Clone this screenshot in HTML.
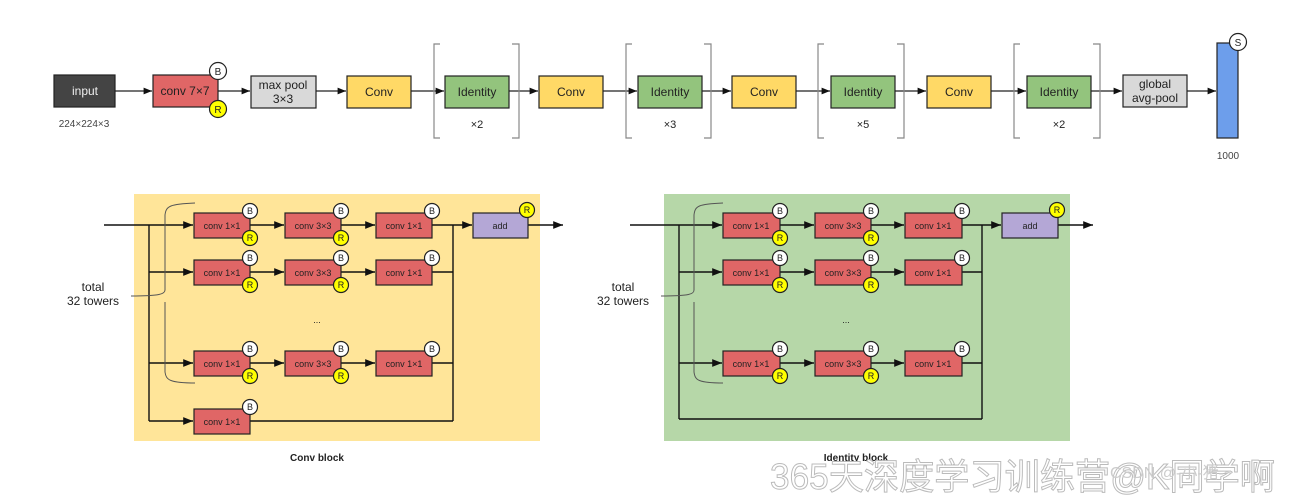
<!DOCTYPE html>
<html><head><meta charset="utf-8"><style>
html,body{margin:0;padding:0;background:#fff;}
svg{display:block;font-family:"Liberation Sans","Noto Sans CJK SC",sans-serif;}
</style></head><body>
<svg width="1297" height="499" viewBox="0 0 1297 499" xmlns="http://www.w3.org/2000/svg">
<defs>
<marker id="a" viewBox="0 0 10 10" refX="10" refY="5" markerWidth="7" markerHeight="7" orient="auto"><path d="M0,1 L10,5 L0,9 z" fill="#111"/></marker>
</defs>
<g stroke="#222" stroke-width="1.2" fill="none">
<!-- top row lines -->
<line x1="115" y1="91" x2="152" y2="91" marker-end="url(#a)"/>
<line x1="218" y1="91" x2="250" y2="91" marker-end="url(#a)"/>
<line x1="316" y1="91" x2="346" y2="91" marker-end="url(#a)"/>
<line x1="411" y1="91" x2="444" y2="91" marker-end="url(#a)"/>
<line x1="509" y1="91" x2="538" y2="91" marker-end="url(#a)"/>
<line x1="603" y1="91" x2="637" y2="91" marker-end="url(#a)"/>
<line x1="702" y1="91" x2="731" y2="91" marker-end="url(#a)"/>
<line x1="796" y1="91" x2="830" y2="91" marker-end="url(#a)"/>
<line x1="895" y1="91" x2="926" y2="91" marker-end="url(#a)"/>
<line x1="991" y1="91" x2="1026" y2="91" marker-end="url(#a)"/>
<line x1="1091" y1="91" x2="1122" y2="91" marker-end="url(#a)"/>
<line x1="1187" y1="91" x2="1216" y2="91" marker-end="url(#a)"/>
</g>
<g stroke="#888" stroke-width="1.2" fill="none">
<path d="M440,44 H434 V138 H440"/><path d="M512,44 H519 V138 H512"/>
<path d="M632,44 H626 V138 H632"/><path d="M704,44 H711 V138 H704"/>
<path d="M824,44 H818 V138 H824"/><path d="M897,44 H904 V138 H897"/>
<path d="M1020,44 H1014 V138 H1020"/><path d="M1093,44 H1100 V138 H1093"/>
</g>
<g stroke="#222" stroke-width="1.2" font-size="12" text-anchor="middle">
<rect x="54" y="75" width="61" height="32" fill="#444"/>
<rect x="153" y="75" width="65" height="32" fill="#e06666"/>
<rect x="251" y="76" width="65" height="32" fill="#d9d9d9"/>
<rect x="347" y="76" width="64" height="32" fill="#ffd966"/>
<rect x="445" y="76" width="64" height="32" fill="#93c47d"/>
<rect x="539" y="76" width="64" height="32" fill="#ffd966"/>
<rect x="638" y="76" width="64" height="32" fill="#93c47d"/>
<rect x="732" y="76" width="64" height="32" fill="#ffd966"/>
<rect x="831" y="76" width="64" height="32" fill="#93c47d"/>
<rect x="927" y="76" width="64" height="32" fill="#ffd966"/>
<rect x="1027" y="76" width="64" height="32" fill="#93c47d"/>
<rect x="1123" y="75" width="64" height="32" fill="#d9d9d9"/>
<rect x="1217" y="43" width="21" height="95" fill="#6d9eeb"/>
<circle cx="218" cy="71" r="8.5" fill="#fff"/><circle cx="218" cy="109" r="8.5" fill="#ff0"/>
<circle cx="1238" cy="42" r="8.5" fill="#fff"/>
</g>
<g font-size="12" text-anchor="middle" fill="#222">
<text x="85" y="95" fill="#eee">input</text>
<text x="185" y="95">conv 7×7</text>
<text x="283" y="89">max pool</text><text x="283" y="103">3×3</text>
<text x="379" y="96">Conv</text><text x="477" y="96">Identity</text>
<text x="571" y="96">Conv</text><text x="670" y="96">Identity</text>
<text x="764" y="96">Conv</text><text x="863" y="96">Identity</text>
<text x="959" y="96">Conv</text><text x="1059" y="96">Identity</text>
<text x="1155" y="88">global</text><text x="1155" y="102">avg-pool</text>
<text x="477" y="128" font-size="11">×2</text><text x="670" y="128" font-size="11">×3</text>
<text x="863" y="128" font-size="11">×5</text><text x="1059" y="128" font-size="11">×2</text>
<text x="84" y="127" font-size="10" fill="#444">224×224×3</text>
<text x="1228" y="159" font-size="10" fill="#444">1000</text>
<text x="218" y="75" font-size="10">B</text><text x="218" y="113" font-size="10">R</text>
<text x="1238" y="46" font-size="10">S</text>
</g>

<!-- Conv block -->
<rect x="134" y="194" width="406" height="247" fill="#ffe599"/>
<g stroke="#111" stroke-width="1.4" fill="none">
<line x1="104" y1="225" x2="193" y2="225" marker-end="url(#a)"/>
<line x1="149" y1="225" x2="149" y2="421"/>
<line x1="149" y1="272" x2="193" y2="272" marker-end="url(#a)"/>
<line x1="149" y1="363" x2="193" y2="363" marker-end="url(#a)"/>
<line x1="149" y1="421" x2="193" y2="421" marker-end="url(#a)"/>
<line x1="250" y1="225" x2="284" y2="225" marker-end="url(#a)"/><line x1="341" y1="225" x2="375" y2="225" marker-end="url(#a)"/>
<line x1="250" y1="272" x2="284" y2="272" marker-end="url(#a)"/><line x1="341" y1="272" x2="375" y2="272" marker-end="url(#a)"/>
<line x1="250" y1="363" x2="284" y2="363" marker-end="url(#a)"/><line x1="341" y1="363" x2="375" y2="363" marker-end="url(#a)"/>
<line x1="432" y1="225" x2="472" y2="225" marker-end="url(#a)"/>
<line x1="432" y1="272" x2="453" y2="272"/><line x1="432" y1="363" x2="453" y2="363"/><line x1="250" y1="421" x2="453" y2="421"/>
<line x1="453" y1="225" x2="453" y2="421"/>
<line x1="527" y1="225" x2="563" y2="225" marker-end="url(#a)"/>
</g>
<path d="M195,203 C170,204 166,206 165,215 V290 C165,294 160,296 131,296 M165,302 V372 C166,380 170,383 195,383" stroke="#555" stroke-width="1" fill="none"/>
<g stroke="#222" stroke-width="1.2">
<rect x="194" y="213" width="56" height="25" fill="#e06666"/><rect x="285" y="213" width="56" height="25" fill="#e06666"/><rect x="376" y="213" width="56" height="25" fill="#e06666"/>
<rect x="194" y="260" width="56" height="25" fill="#e06666"/><rect x="285" y="260" width="56" height="25" fill="#e06666"/><rect x="376" y="260" width="56" height="25" fill="#e06666"/>
<rect x="194" y="351" width="56" height="25" fill="#e06666"/><rect x="285" y="351" width="56" height="25" fill="#e06666"/><rect x="376" y="351" width="56" height="25" fill="#e06666"/>
<rect x="194" y="409" width="56" height="25" fill="#e06666"/>
<rect x="473" y="213" width="55" height="25" fill="#b4a7d6"/>
<g fill="#fff"><circle cx="250" cy="211" r="7.5"/><circle cx="341" cy="211" r="7.5"/><circle cx="432" cy="211" r="7.5"/>
<circle cx="250" cy="258" r="7.5"/><circle cx="341" cy="258" r="7.5"/><circle cx="432" cy="258" r="7.5"/>
<circle cx="250" cy="349" r="7.5"/><circle cx="341" cy="349" r="7.5"/><circle cx="432" cy="349" r="7.5"/>
<circle cx="250" cy="407" r="7.5"/></g>
<g fill="#ff0"><circle cx="250" cy="238" r="7.5"/><circle cx="341" cy="238" r="7.5"/>
<circle cx="250" cy="285" r="7.5"/><circle cx="341" cy="285" r="7.5"/>
<circle cx="250" cy="376" r="7.5"/><circle cx="341" cy="376" r="7.5"/><circle cx="527" cy="210" r="7.5"/></g>
</g>
<g font-size="9" text-anchor="middle" fill="#222">
<text x="222" y="229">conv 1×1</text><text x="313" y="229">conv 3×3</text><text x="404" y="229">conv 1×1</text>
<text x="222" y="276">conv 1×1</text><text x="313" y="276">conv 3×3</text><text x="404" y="276">conv 1×1</text>
<text x="222" y="367">conv 1×1</text><text x="313" y="367">conv 3×3</text><text x="404" y="367">conv 1×1</text>
<text x="222" y="425">conv 1×1</text><text x="500" y="229">add</text>
<g font-size="9"><text x="250" y="214">B</text><text x="341" y="214">B</text><text x="432" y="214">B</text>
<text x="250" y="261">B</text><text x="341" y="261">B</text><text x="432" y="261">B</text>
<text x="250" y="352">B</text><text x="341" y="352">B</text><text x="432" y="352">B</text><text x="250" y="410">B</text>
<text x="250" y="241">R</text><text x="341" y="241">R</text><text x="250" y="288">R</text><text x="341" y="288">R</text>
<text x="250" y="379">R</text><text x="341" y="379">R</text><text x="527" y="213">R</text></g>
<text x="317" y="323">...</text>
<text x="93" y="291" font-size="12">total</text><text x="93" y="305" font-size="12">32 towers</text>
<text x="317" y="461" font-size="10" font-weight="bold">Conv block</text>
</g>

<!-- Identity block -->
<rect x="664" y="194" width="406" height="247" fill="#b6d7a8"/>
<g stroke="#111" stroke-width="1.4" fill="none">
<line x1="630" y1="225" x2="722" y2="225" marker-end="url(#a)"/>
<line x1="679" y1="225" x2="679" y2="419"/>
<line x1="679" y1="272" x2="722" y2="272" marker-end="url(#a)"/>
<line x1="679" y1="363" x2="722" y2="363" marker-end="url(#a)"/>
<line x1="780" y1="225" x2="814" y2="225" marker-end="url(#a)"/><line x1="871" y1="225" x2="904" y2="225" marker-end="url(#a)"/>
<line x1="780" y1="272" x2="814" y2="272" marker-end="url(#a)"/><line x1="871" y1="272" x2="904" y2="272" marker-end="url(#a)"/>
<line x1="780" y1="363" x2="814" y2="363" marker-end="url(#a)"/><line x1="871" y1="363" x2="904" y2="363" marker-end="url(#a)"/>
<line x1="962" y1="225" x2="1001" y2="225" marker-end="url(#a)"/>
<line x1="962" y1="272" x2="982" y2="272"/><line x1="962" y1="363" x2="982" y2="363"/><line x1="679" y1="419" x2="982" y2="419"/>
<line x1="982" y1="225" x2="982" y2="419"/>
<line x1="1058" y1="225" x2="1093" y2="225" marker-end="url(#a)"/>
</g>
<path d="M723,203 C698,204 695,206 694,215 V290 C694,294 690,296 661,296 M694,302 V372 C695,380 698,383 723,383" stroke="#555" stroke-width="1" fill="none"/>
<g stroke="#222" stroke-width="1.2">
<rect x="723" y="213" width="57" height="25" fill="#e06666"/><rect x="815" y="213" width="56" height="25" fill="#e06666"/><rect x="905" y="213" width="57" height="25" fill="#e06666"/>
<rect x="723" y="260" width="57" height="25" fill="#e06666"/><rect x="815" y="260" width="56" height="25" fill="#e06666"/><rect x="905" y="260" width="57" height="25" fill="#e06666"/>
<rect x="723" y="351" width="57" height="25" fill="#e06666"/><rect x="815" y="351" width="56" height="25" fill="#e06666"/><rect x="905" y="351" width="57" height="25" fill="#e06666"/>
<rect x="1002" y="213" width="56" height="25" fill="#b4a7d6"/>
<g fill="#fff"><circle cx="780" cy="211" r="7.5"/><circle cx="871" cy="211" r="7.5"/><circle cx="962" cy="211" r="7.5"/>
<circle cx="780" cy="258" r="7.5"/><circle cx="871" cy="258" r="7.5"/><circle cx="962" cy="258" r="7.5"/>
<circle cx="780" cy="349" r="7.5"/><circle cx="871" cy="349" r="7.5"/><circle cx="962" cy="349" r="7.5"/></g>
<g fill="#ff0"><circle cx="780" cy="238" r="7.5"/><circle cx="871" cy="238" r="7.5"/>
<circle cx="780" cy="285" r="7.5"/><circle cx="871" cy="285" r="7.5"/>
<circle cx="780" cy="376" r="7.5"/><circle cx="871" cy="376" r="7.5"/><circle cx="1057" cy="210" r="7.5"/></g>
</g>
<g font-size="9" text-anchor="middle" fill="#222">
<text x="751" y="229">conv 1×1</text><text x="843" y="229">conv 3×3</text><text x="933" y="229">conv 1×1</text>
<text x="751" y="276">conv 1×1</text><text x="843" y="276">conv 3×3</text><text x="933" y="276">conv 1×1</text>
<text x="751" y="367">conv 1×1</text><text x="843" y="367">conv 3×3</text><text x="933" y="367">conv 1×1</text>
<text x="1030" y="229">add</text>
<text x="780" y="214">B</text><text x="871" y="214">B</text><text x="962" y="214">B</text>
<text x="780" y="261">B</text><text x="871" y="261">B</text><text x="962" y="261">B</text>
<text x="780" y="352">B</text><text x="871" y="352">B</text><text x="962" y="352">B</text>
<text x="780" y="241">R</text><text x="871" y="241">R</text><text x="780" y="288">R</text><text x="871" y="288">R</text>
<text x="780" y="379">R</text><text x="871" y="379">R</text><text x="1057" y="213">R</text>
<text x="846" y="323">...</text>
<text x="623" y="291" font-size="12">total</text><text x="623" y="305" font-size="12">32 towers</text>
<text x="856" y="461" font-size="10" font-weight="bold">Identity block</text>
</g>
<text x="770" y="489" font-size="36" fill="#fff" stroke="#bbb" stroke-width="1" textLength="505" lengthAdjust="spacingAndGlyphs" font-family="'Liberation Sans','Noto Sans CJK SC',sans-serif">365天深度学习训练营@K同学啊</text>
<text x="1110" y="478" font-size="16" fill="#ccc">CSDN @-小-猪-~</text>
</svg>
</body></html>
